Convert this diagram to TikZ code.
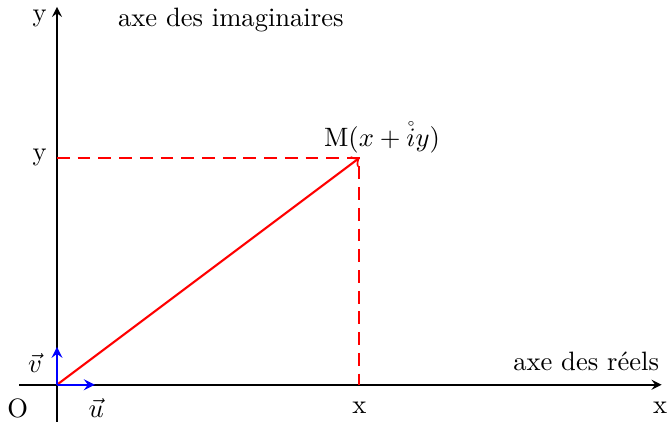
\documentclass[tikz,border=0pt]{standalone}
\usepackage{amsmath}
\begin{document}
\begin{tikzpicture}[
  axis/.style={line width=0.7pt,-stealth},
  redvec/.style={red,thick,->},
  reddash/.style={red,thick,dash pattern=on 4.8pt off 3pt},
  bluevec/.style={blue,thick,-stealth},
  lbl/.style={inner sep=0pt}
]
\useasboundingbox (-0.754,-0.49) rectangle (8.07,5.09);
\coordinate (O) at (0,0);
\coordinate (xl) at (-0.5,0);
\coordinate (xr) at (8,0);
\coordinate (yb) at (0,-0.5);
\coordinate (yt) at (0,5);
\coordinate (M) at (4,3);
\coordinate (My) at (0,3);
\coordinate (Mx) at (4,0);
\coordinate (ue) at (0.5,0);
\coordinate (ve) at (0,0.5);
\draw[axis] (xl) -- (xr);
\draw[axis] (yb) -- (yt);
\draw[reddash] (My) -- (M) -- (Mx);
\draw[redvec] (O) -- (M);
\draw[bluevec] (O) -- (ue);
\draw[bluevec] (O) -- (ve);
\node[lbl] (lO) at (-0.52,-0.31) {O};
\node[lbl] (lx) at (7.98,-0.31) {x};
\node[lbl] (ly) at (-0.23,4.85) {y};
\node[lbl] (lxm) at (4,-0.31) {x};
\node[lbl] (lym) at (-0.23,3) {y};
\node[lbl] (lu) at (0.52,-0.31) {$\vec{u}$};
\node[lbl] (lv) at (-0.29,0.29) {$\vec{v}$};
\node[lbl] (lM) at (4.3,3.27) {M$(x+\mathring{i}y)$};
\node[lbl] (limag) at (2.3,4.83) {axe des imaginaires};
\node[lbl] (lreel) at (7.0,0.31) {axe des réels};
\end{tikzpicture}
\end{document}
